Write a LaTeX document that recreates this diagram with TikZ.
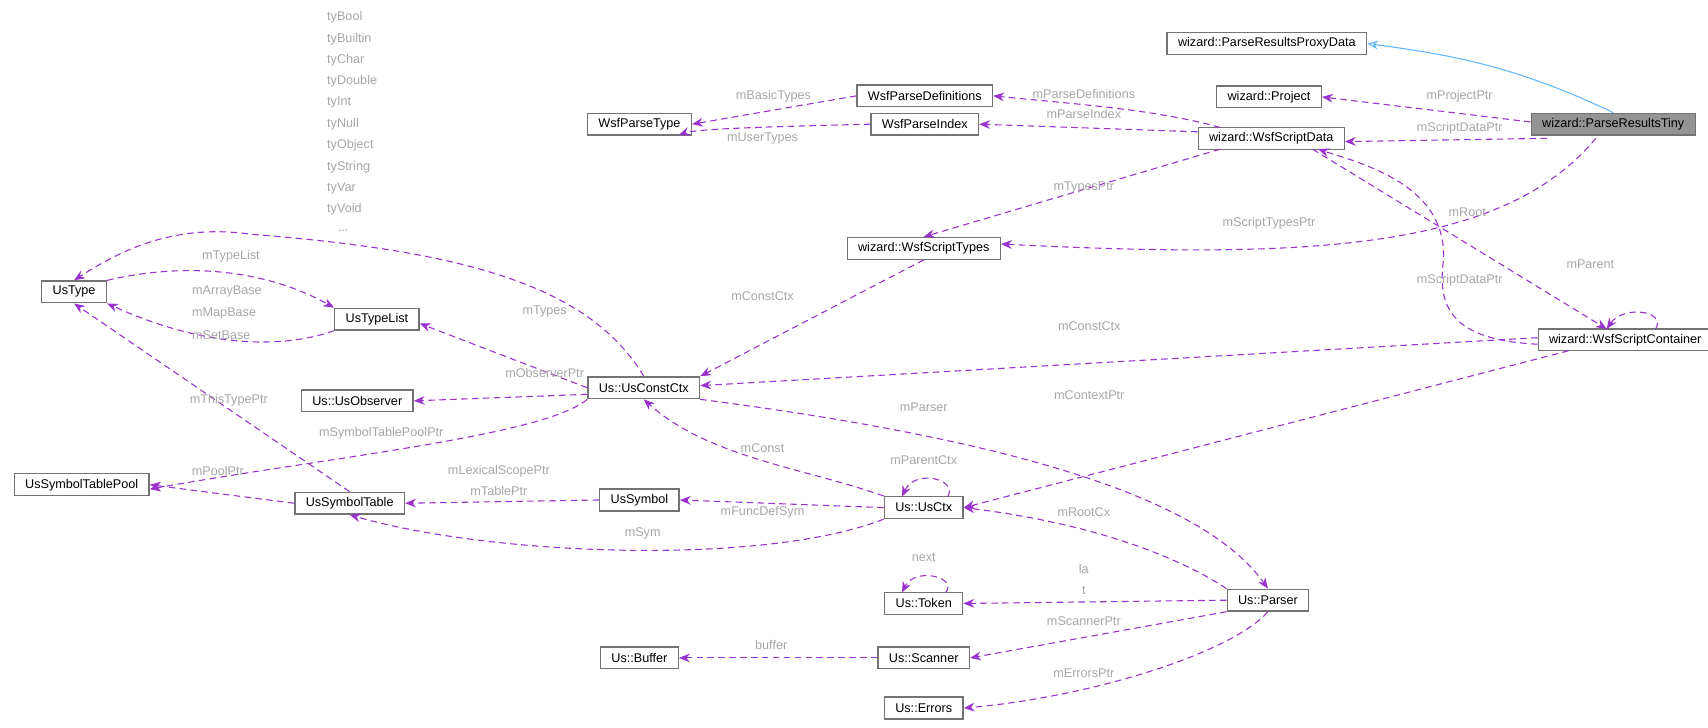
\documentclass[tikz,border=0pt]{standalone}
\usepackage{fontspec}
\setmainfont{Liberation Sans}
\usetikzlibrary{arrows.meta}
\begin{document}
\begin{tikzpicture}[x=0.5pt,y=-0.5pt,
 box/.style={draw=black!55,line width=0.6pt,fill=white,inner ysep=0pt,inner xsep=5pt,minimum height=10pt,font=\fontsize{5.8}{7}\selectfont,text=black},
 e/.style={draw={rgb,255:red,154;green,50;blue,205},dashed,dash pattern=on 3pt off 2pt,line width=0.5pt,-{Stealth[length=5pt,width=4pt]}},
 inh/.style={draw={rgb,255:red,99;green,184;blue,255},line width=0.5pt,-{Stealth[length=5pt,width=4pt,fill=white]}},
 lb/.style={font=\fontsize{5.8}{7}\selectfont,text=black!35,inner sep=0pt}]
\useasboundingbox (0,0) rectangle (1568,668);
\node[box] (prox) at (1163,40) {wizard::ParseResultsProxyData};
\node[box] (proj) at (1165,89) {wizard::Project};
\node[box,fill=black!42] (tiny) at (1481,114) {wizard::ParseResultsTiny};
\node[box] (pdef) at (849,88) {WsfParseDefinitions};
\node[box] (ptype) at (587,114) {WsfParseType};
\node[box] (pidx) at (849,114) {WsfParseIndex};
\node[box] (sdata) at (1167,127) {wizard::WsfScriptData};
\node[box] (stypes) at (848,228) {wizard::WsfScriptTypes};
\node[box] (ustype) at (68,268) {UsType};
\node[box] (utl) at (346,293) {UsTypeList};
\node[box] (obs) at (328,368) {Us::UsObserver};
\node[box] (cctx) at (591,356) {Us::UsConstCtx};
\node[box] (cont) at (1492,312) {wizard::WsfScriptContainer};
\node[box] (pool) at (75,445) {UsSymbolTablePool};
\node[box] (stab) at (321,462) {UsSymbolTable};
\node[box] (sym) at (587,459) {UsSymbol};
\node[box] (ctx) at (848,466) {Us::UsCtx};
\node[box] (tok) at (848,554) {Us::Token};
\node[box] (pars) at (1164,551) {Us::Parser};
\node[box] (buf) at (587,604) {Us::Buffer};
\node[box] (scan) at (848,604) {Us::Scanner};
\node[box] (err) at (848,650) {Us::Errors};

\draw[inh] (tiny.north) .. controls (1390,60) and (1330,50) .. (prox.east);
\draw[e] ([yshift=1pt]tiny.west) -- (proj.east);
\node[lb] at (1340,88) {mProjectPtr};
\draw[e] (1420,127) -- ([yshift=-1.5pt]sdata.east);
\node[lb] at (1340,118) {mScriptDataPtr};
\draw[e] (1465,127) .. controls (1380,230) and (1200,238) .. ([yshift=2pt]stypes.east);
\node[lb] at (1165,205) {mScriptTypesPtr};
\draw[e] (1205,137) -- (1475,302);
\node[lb] at (1347,195) {mRoot};
\draw[e] ([yshift=-2pt]cont.west) .. controls (1330,312) and (1320,280) .. (1325,240) .. controls (1330,170) and (1250,150) .. (1210,137);
\node[lb] at (1340,257) {mScriptDataPtr};
\draw[e] (1520,302) .. controls (1530,285) and (1490,280) .. (1475,302);
\node[lb] at (1460,243) {mParent};
\draw[e] ([yshift=1pt]cont.west) -- ([yshift=1pt]cctx.east);
\node[lb] at (1000,299) {mConstCtx};
\draw[e] (1440,322) -- (ctx.east);
\node[lb] at (1000,363) {mContextPtr};
\draw[e] (1120,117) .. controls (1060,100) and (980,95) .. (pdef.east);
\node[lb] at (995,86) {mParseDefinitions};
\draw[e] ([yshift=3pt]sdata.west) -- (pidx.east);
\node[lb] at (995,105) {mParseIndex};
\draw[e] (1120,137) -- (stypes.north);
\node[lb] at (995,172) {mTypesPtr};
\draw[e] (pdef.west) -- (ptype.east);
\node[lb] at (710,88) {mBasicTypes};
\draw[e] (pidx.west) .. controls (720,116) and (640,118) .. (623,124);
\node[lb] at (700,127) {mUserTypes};
\draw[e] (stypes.south) -- (cctx.north east);
\node[lb] at (700,272) {mConstCtx};
\draw[e] (cctx.north) .. controls (540,260) and (420,230) .. (230,215) .. controls (160,205) and (110,230) .. (ustype.north);
\foreach \t [count=\i] in {tyBool,tyBuiltin,tyChar,tyDouble,tyInt,tyNull,tyObject,tyString,tyVar,tyVoid}
  \node[lb,anchor=west] at (300,-3.5+19.6*\i) {\t};
\node[lb] at (315,212) {...};
\draw[e] (ustype.north east) .. controls (150,245) and (230,240) .. (utl.north west);
\node[lb] at (212,235) {mTypeList};
\draw[e] (utl.south west) .. controls (260,320) and (190,320) .. (ustype.south east);
\node[lb,anchor=west,align=left] at (176,287) {mArrayBase\\[3.5pt]mMapBase\\[3.5pt]mSetBase};
\draw[e] (cctx.west) -- ([yshift=-2pt]utl.east);
\node[lb] at (500,286) {mTypes};
\draw[e] ([yshift=-3pt]cctx.west) -- (obs.east);
\node[lb] at (500,342) {mObserverPtr};
\draw[e] (cctx.south west) .. controls (500,400) and (300,420) .. ([yshift=-2pt]pool.east);
\node[lb] at (350,398) {mSymbolTablePoolPtr};
\draw[e] (cctx.south east) .. controls (900,400) and (1100,450) .. (pars.north);
\node[lb] at (848,374) {mParser};
\draw[e] (stab.west) -- (pool.east);
\node[lb] at (200,432) {mPoolPtr};
\draw[e] (stab.north) -- (ustype.south);
\node[lb] at (210,367) {mThisTypePtr};
\draw[e] (sym.west) -- (stab.east);
\node[lb,align=center] at (458,441) {mLexicalScopePtr\\[3pt]mTablePtr};
\draw[e] (ctx.west) -- (sym.east);
\node[lb] at (700,470) {mFuncDefSym};
\draw[e] (ctx.south west) .. controls (700,520) and (450,510) .. (stab.south);
\node[lb] at (590,490) {mSym};
\draw[e] (ctx.north west) .. controls (740,430) and (650,420) .. (cctx.south);
\node[lb] at (700,411) {mConst};
\draw[e] (870,456) .. controls (880,440) and (840,430) .. (828,456);
\node[lb] at (848,422) {mParentCtx};
\draw[e] (pars.north west) .. controls (1080,510) and (1000,480) .. (ctx.east);
\node[lb] at (995,470) {mRootCx};
\draw[e] (pars.west) -- (tok.east);
\node[lb,align=center] at (995,532) {la\\[3pt]t};
\draw[e] (868,544) .. controls (880,530) and (840,520) .. (828,544);
\node[lb] at (848,512) {next};
\draw[e] (pars.south west) -- (scan.east);
\node[lb] at (995,570) {mScannerPtr};
\draw[e] (scan.west) -- (buf.east);
\node[lb] at (708,592) {buffer};
\draw[e] (pars.south) .. controls (1130,600) and (1000,640) .. (err.east);
\node[lb] at (995,618) {mErrorsPtr};
\end{tikzpicture}
\end{document}
